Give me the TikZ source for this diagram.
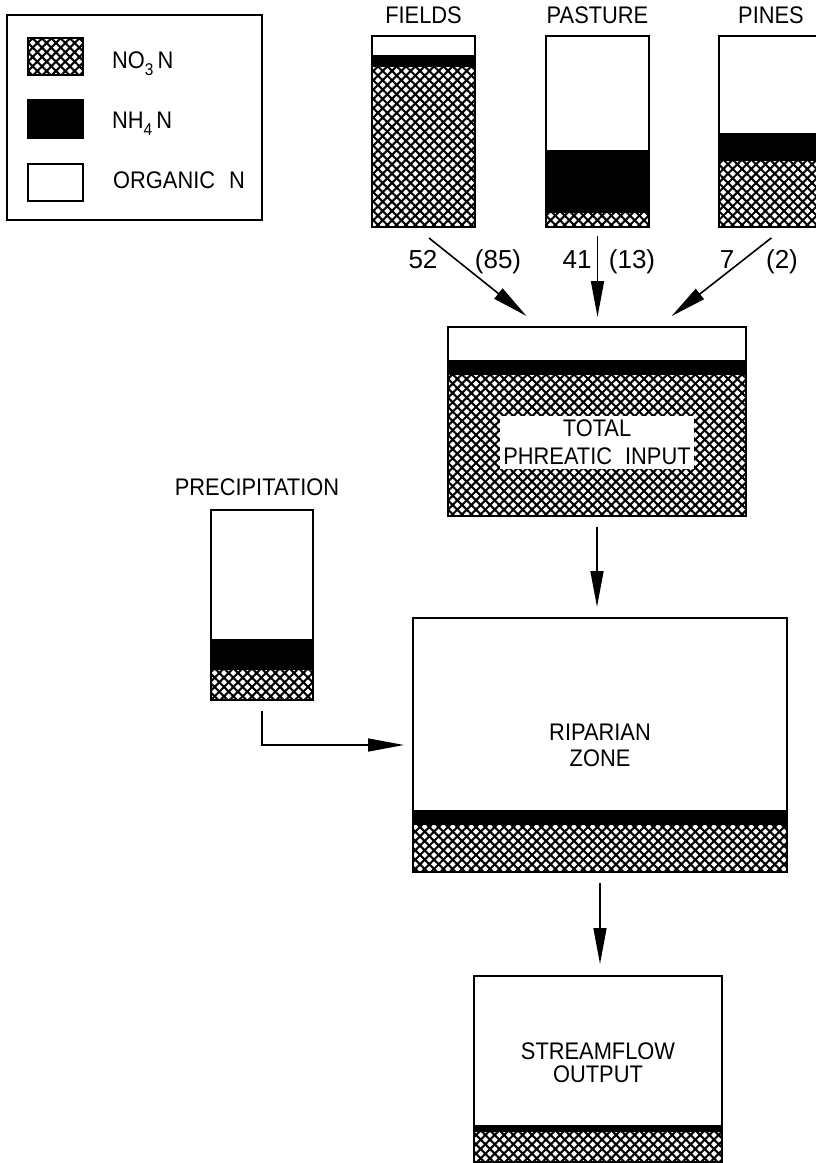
\documentclass[tikz,border=0pt]{standalone}
\usepackage{fontspec}
\setmainfont{Liberation Sans}[FakeStretch=0.91]
\newfontfamily\numfont{Liberation Sans}
\usetikzlibrary{arrows.meta,positioning,fit,patterns.meta}

\begin{document}
\begin{tikzpicture}[x=1pt,y=-1pt,font=\fontsize{24}{26}\selectfont,
nitrate/.style={pattern={Lines[angle=45,distance=6.6pt,line width=2.1pt]},
  postaction={pattern={Lines[angle=-45,distance=6.6pt,line width=2.1pt]}}},
stack/.style={draw,line width=2pt,inner sep=0pt},
lbl/.style={inner sep=0pt,align=center},
num/.style={inner sep=0pt,anchor=base,font=\numfont\fontsize{26}{28}\selectfont},
flow/.style={-{Triangle[length=36pt,width=13pt]},line width=1.6pt}]
\useasboundingbox (0,0) rectangle (816,1163);
\clip (0,0) rectangle (816,1163);
\fill[white] (0,0) rectangle (816,1163);
% legend
\node[stack,fit={(7,15) (262,220)}] (legend) {};
\path[nitrate] (28,38) rectangle (83,75);
\node[stack,line width=1.6pt,fit={(28,38) (83,75)}] (keyNitrate) {};
\node[stack,line width=1.6pt,fill=black,fit={(28,100) (83,138)}] (keyAmmonium) {};
\node[stack,line width=1.6pt,fit={(28,164) (83,201)}] (keyOrganic) {};
\node[lbl,anchor=base west] (txtNitrate) at (112,68) {NO\raisebox{-7pt}{\fontsize{17}{17}\selectfont 3}\,N};
\node[lbl,anchor=base west] (txtAmmonium) at (112,128) {NH\raisebox{-7pt}{\fontsize{17}{17}\selectfont 4}\,N};
\node[lbl,anchor=base west] (txtOrganic) at (113,188) {ORGANIC\hspace{14pt}N};
% stacked bars: organic / NH4 / NO3
\foreach \stackname/\xl/\xr/\yt/\yw/\yk/\yb in {fields/372/475/36/55/67/227,
  pasture/546/649/36/150/213/227, pines/719/823/36/133/161/227,
  precip/211/313/510/639/670/700, total/448/746/327/360/375/516,
  riparian/413/787/618/810/825/872, stream/474/722/976/1125/1132/1162}{
  \path[nitrate] (\xl,\yk) rectangle (\xr,\yb);
  \fill (\xl,\yw) rectangle (\xr,\yk);
  \node[stack,fit={(\xl,\yt) (\xr,\yb)}] (\stackname) {};
}
\node[lbl,above=11pt of fields] (fieldsTitle) {FIELDS};
\node[lbl,above=11pt of pasture] (pastureTitle) {PASTURE};
\node[lbl,above=11pt of pines] (pinesTitle) {PINES};
\node[lbl,above=13pt of precip,xshift=-5pt] (precipTitle) {PRECIPITATION};
\node[lbl,fill=white,inner xsep=3pt,inner ysep=4pt,font=\fontsize{24}{28}\selectfont] (totalTitle) at (597,442) {TOTAL\\PHREATIC\hspace{13pt}INPUT};
\node[lbl] (riparianTitle) at (riparian.center) {RIPARIAN\\ZONE};
\node[lbl,font=\fontsize{24}{23}\selectfont] (streamTitle) at (598,1063) {STREAMFLOW\\OUTPUT};
% flows
\draw[flow,shorten <=16pt,shorten >=16pt] ([xshift=-7pt]fields.south) -- ([xshift=-58pt]total.north);
\draw[flow,shorten <=8pt,shorten >=9pt] (pasture.south) -- (pasture.south |- total.north);
\draw[flow,shorten <=16pt,shorten >=16pt] ([xshift=13pt]pines.south) -- ([xshift=62pt]total.north);
\draw[flow,shorten <=10pt,shorten >=10pt] (total.south) -- (total.south |- riparian.north);
\draw[flow,shorten <=10pt,shorten >=11pt] (riparian.south) -- (riparian.south |- stream.north);
\draw[flow,shorten <=10pt,shorten >=8pt] (precip.south) |- (riparian.west);
\node[num] (fieldsPct) at (423,268) {52};
\node[num] (fieldsLoad) at (498,268) {(85)};
\node[num] (pasturePct) at (577,268) {41};
\node[num] (pastureLoad) at (632,268) {(13)};
\node[num] (pinesPct) at (727,268) {7};
\node[num] (pinesLoad) at (782,268) {(2)};
\end{tikzpicture}
\end{document}
